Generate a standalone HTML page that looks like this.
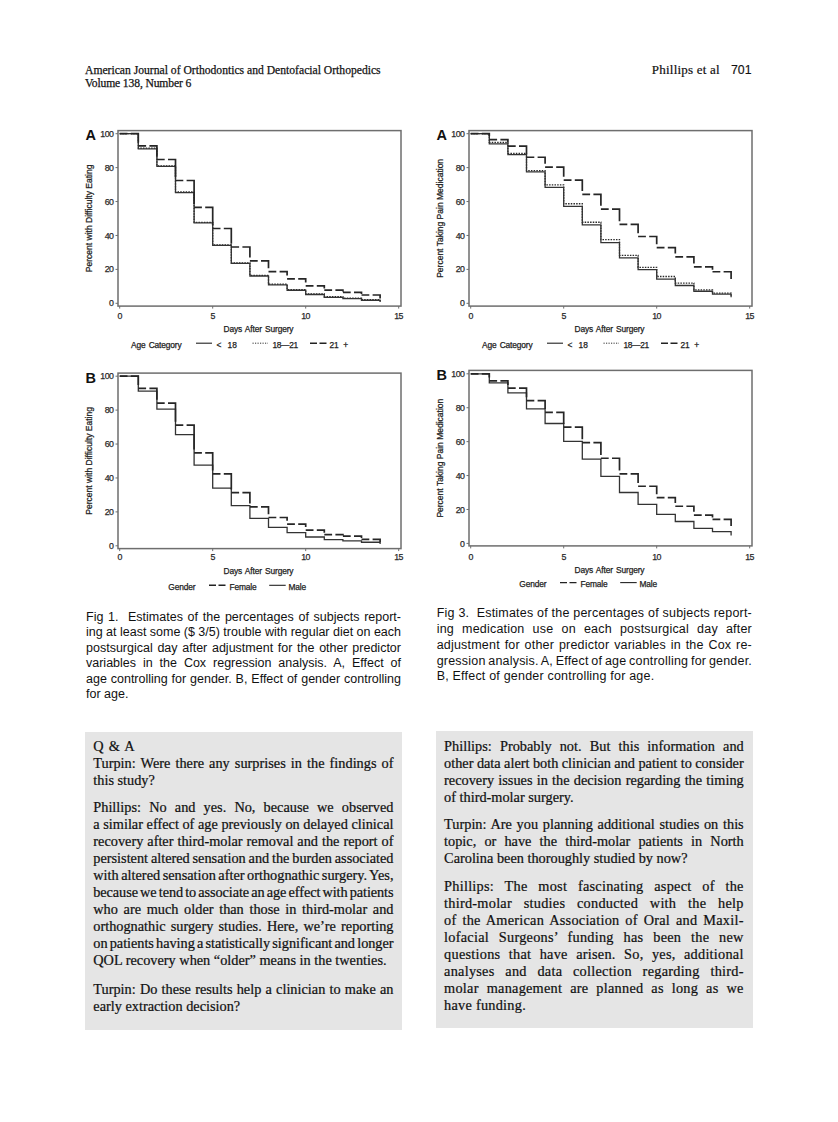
<!DOCTYPE html><html><head><meta charset="utf-8">
<style>
html,body{margin:0;padding:0;background:#fff;}
body{width:838px;height:1122px;position:relative;overflow:hidden;}
.ch{position:absolute;left:0;top:0;}
.tl{font-family:"Liberation Sans",sans-serif;font-size:8.8px;letter-spacing:-0.5px;fill:#2a2a2a;stroke:#2a2a2a;stroke-width:0.25px;}
.al{font-family:"Liberation Sans",sans-serif;font-size:8.4px;letter-spacing:-0.14px;word-spacing:1px;fill:#222;stroke:#222;stroke-width:0.25px;}
.yl{font-family:"Liberation Sans",sans-serif;font-size:8.5px;fill:#222;stroke:#222;stroke-width:0.25px;}
.pl{font-family:"Liberation Sans",sans-serif;font-size:14.5px;font-weight:bold;fill:#111;}
.hd{position:absolute;font-family:"Liberation Serif",serif;font-size:12.4px;line-height:13.4px;color:#111;white-space:nowrap;}
.hs{position:absolute;font-family:"Liberation Sans",sans-serif;font-size:12.3px;line-height:14px;color:#111;white-space:nowrap;}
.cap{position:absolute;font-family:"Liberation Sans",sans-serif;font-size:12.5px;color:#111;}
.cap div{height:15.5px;line-height:15.5px;white-space:nowrap;text-align:justify;text-align-last:justify;}
.f3 div{height:15.75px;line-height:15.75px;}
.cap div.l{text-align:left;text-align-last:left;}
.box{position:absolute;background:#e5e5e5;}
.p{position:absolute;font-family:"Liberation Serif",serif;font-size:14.3px;color:#111;-webkit-text-stroke:0.22px #111;}
.p div{height:17px;line-height:17px;white-space:nowrap;text-align:justify;text-align-last:justify;}
.p div.l{text-align:left;text-align-last:left;}
</style></head><body>
<div class="hd" style="left:85px;top:63.8px;transform:scaleX(0.938);transform-origin:0 0;-webkit-text-stroke:0.25px #111;">American Journal of Orthodontics and Dentofacial Orthopedics<br><span style="letter-spacing:-0.15px;">Volume 138, Number 6</span></div>
<div class="hd" style="left:651.8px;top:62.5px;font-size:13px;letter-spacing:0.22px;-webkit-text-stroke:0.2px #111;">Phillips et al</div>
<div class="hs" style="left:731px;top:62.7px;-webkit-text-stroke:0.15px #111;">701</div>
<svg class="ch" width="838" height="600" viewBox="0 0 838 600">
<rect x="118.00" y="130.60" width="283.00" height="175.50" fill="none" stroke="#6e6e6e" stroke-width="1.5"></rect>
<line x1="115.50" y1="303.30" x2="118.00" y2="303.30" stroke="#6e6e6e" stroke-width="1"></line>
<text x="113.50" y="306.40" class="tl" text-anchor="end">0</text>
<line x1="115.50" y1="269.38" x2="118.00" y2="269.38" stroke="#6e6e6e" stroke-width="1"></line>
<text x="113.50" y="272.48" class="tl" text-anchor="end">20</text>
<line x1="115.50" y1="235.46" x2="118.00" y2="235.46" stroke="#6e6e6e" stroke-width="1"></line>
<text x="113.50" y="238.56" class="tl" text-anchor="end">40</text>
<line x1="115.50" y1="201.54" x2="118.00" y2="201.54" stroke="#6e6e6e" stroke-width="1"></line>
<text x="113.50" y="204.64" class="tl" text-anchor="end">60</text>
<line x1="115.50" y1="167.62" x2="118.00" y2="167.62" stroke="#6e6e6e" stroke-width="1"></line>
<text x="113.50" y="170.72" class="tl" text-anchor="end">80</text>
<line x1="115.50" y1="133.70" x2="118.00" y2="133.70" stroke="#6e6e6e" stroke-width="1"></line>
<text x="113.50" y="136.80" class="tl" text-anchor="end">100</text>
<line x1="119.70" y1="306.10" x2="119.70" y2="308.60" stroke="#6e6e6e" stroke-width="1"></line>
<text x="119.60" y="318.70" class="tl" text-anchor="middle">0</text>
<line x1="212.70" y1="306.10" x2="212.70" y2="308.60" stroke="#6e6e6e" stroke-width="1"></line>
<text x="212.60" y="318.70" class="tl" text-anchor="middle">5</text>
<line x1="305.70" y1="306.10" x2="305.70" y2="308.60" stroke="#6e6e6e" stroke-width="1"></line>
<text x="305.60" y="318.70" class="tl" text-anchor="middle">10</text>
<line x1="398.70" y1="306.10" x2="398.70" y2="308.60" stroke="#6e6e6e" stroke-width="1"></line>
<text x="398.60" y="318.70" class="tl" text-anchor="middle">15</text>
<text x="85.50" y="140.20" class="pl">A</text>
<text x="91.80" y="218.35" class="yl" text-anchor="middle" transform="rotate(-90 91.80 218.35)">Percent with Difficulty Eating</text>
<text x="258.50" y="332.40" class="al" text-anchor="middle">Days After Surgery</text>
<path d="M119.70 133.70H138.30V148.20H156.90V165.84H175.50V191.96H194.10V222.32H212.70V244.87H231.30V262.85H249.90V275.40H268.50V284.22H287.10V289.65H305.70V293.89H324.30V296.77H342.90V298.13H361.50V299.65H380.10V301.26" fill="none" stroke="#2a2a2a" stroke-width="1.3" stroke-dasharray="1.5 1.2"></path>
<path d="M119.70 133.70H138.30V148.79H156.90V166.43H175.50V192.55H194.10V222.91H212.70V245.47H231.30V263.44H249.90V275.99H268.50V284.81H287.10V290.24H305.70V294.48H324.30V297.36H342.90V298.72H361.50V300.25H380.10V301.94" fill="none" stroke="#333" stroke-width="1.3"></path>
<path d="M119.70 133.70H127.50M130.80 133.70H138.30V142.61M138.30 145.91H146.10M149.40 145.91H156.90V156.18M156.90 159.48H164.70M168.00 159.48H175.50V177.21M175.50 180.51H183.30M186.60 180.51H194.10V204.01M194.10 207.31H201.90M205.20 207.31H212.70V225.21M212.70 228.51H220.50M223.80 228.51H231.30V243.69M231.30 246.99H239.10M242.40 246.99H249.90V257.60M249.90 260.90H257.70M261.00 260.90H268.50V268.28M268.50 271.58H276.30M279.60 271.58H287.10V275.58M287.10 278.88H294.90M298.20 278.88H305.70V282.53M305.70 285.83H313.50M316.80 285.83H324.30V288.38M324.30 290.07H332.10M335.40 290.07H342.90V291.39M342.90 292.28H350.70M354.00 292.28H361.50V293.90M361.50 294.99H369.30M372.60 294.99H380.10V298.38" fill="none" stroke="#262626" stroke-width="1.7"></path>
<text x="131.00" y="347.80" class="al">Age Category</text>
<line x1="196.00" y1="343.20" x2="212.00" y2="343.20" stroke="#222" stroke-width="1.1"></line>
<text x="216.50" y="347.80" class="al">&lt;&nbsp;&nbsp;18</text>
<line x1="252.50" y1="343.20" x2="268.00" y2="343.20" stroke="#333" stroke-width="1" stroke-dasharray="1.2 1.3"></line>
<text x="272.50" y="347.80" class="al" style="letter-spacing:-0.35px">18—21</text>
<line x1="310.00" y1="343.20" x2="327.00" y2="343.20" stroke="#222" stroke-width="1.4" stroke-dasharray="7 2.5"></line>
<text x="329.50" y="347.80" class="al" style="word-spacing:2.5px">21 +</text>
<rect x="469.00" y="130.60" width="283.00" height="175.50" fill="none" stroke="#6e6e6e" stroke-width="1.5"></rect>
<line x1="466.50" y1="303.30" x2="469.00" y2="303.30" stroke="#6e6e6e" stroke-width="1"></line>
<text x="464.50" y="306.40" class="tl" text-anchor="end">0</text>
<line x1="466.50" y1="269.38" x2="469.00" y2="269.38" stroke="#6e6e6e" stroke-width="1"></line>
<text x="464.50" y="272.48" class="tl" text-anchor="end">20</text>
<line x1="466.50" y1="235.46" x2="469.00" y2="235.46" stroke="#6e6e6e" stroke-width="1"></line>
<text x="464.50" y="238.56" class="tl" text-anchor="end">40</text>
<line x1="466.50" y1="201.54" x2="469.00" y2="201.54" stroke="#6e6e6e" stroke-width="1"></line>
<text x="464.50" y="204.64" class="tl" text-anchor="end">60</text>
<line x1="466.50" y1="167.62" x2="469.00" y2="167.62" stroke="#6e6e6e" stroke-width="1"></line>
<text x="464.50" y="170.72" class="tl" text-anchor="end">80</text>
<line x1="466.50" y1="133.70" x2="469.00" y2="133.70" stroke="#6e6e6e" stroke-width="1"></line>
<text x="464.50" y="136.80" class="tl" text-anchor="end">100</text>
<line x1="470.70" y1="306.10" x2="470.70" y2="308.60" stroke="#6e6e6e" stroke-width="1"></line>
<text x="470.60" y="318.70" class="tl" text-anchor="middle">0</text>
<line x1="563.70" y1="306.10" x2="563.70" y2="308.60" stroke="#6e6e6e" stroke-width="1"></line>
<text x="563.60" y="318.70" class="tl" text-anchor="middle">5</text>
<line x1="656.70" y1="306.10" x2="656.70" y2="308.60" stroke="#6e6e6e" stroke-width="1"></line>
<text x="656.60" y="318.70" class="tl" text-anchor="middle">10</text>
<line x1="749.70" y1="306.10" x2="749.70" y2="308.60" stroke="#6e6e6e" stroke-width="1"></line>
<text x="749.60" y="318.70" class="tl" text-anchor="middle">15</text>
<text x="436.50" y="140.20" class="pl">A</text>
<text x="442.80" y="218.35" class="yl" text-anchor="middle" transform="rotate(-90 442.80 218.35)">Percent Taking Pain Medication</text>
<text x="609.50" y="332.40" class="al" text-anchor="middle">Days After Surgery</text>
<path d="M470.70 133.70H489.30V142.35H507.90V153.37H526.50V170.67H545.10V184.92H563.70V203.74H582.30V222.23H600.90V239.53H619.50V255.30H638.10V267.34H656.70V276.50H675.30V283.12H693.90V289.90H712.50V293.12H731.10V295.67" fill="none" stroke="#2a2a2a" stroke-width="1.3" stroke-dasharray="1.5 1.2"></path>
<path d="M470.70 133.70H489.30V143.88H507.90V154.56H526.50V171.86H545.10V187.29H563.70V206.46H582.30V224.94H600.90V242.58H619.50V257.85H638.10V269.72H656.70V279.22H675.30V285.49H693.90V291.26H712.50V294.14H731.10V297.36" fill="none" stroke="#333" stroke-width="1.3"></path>
<path d="M470.70 133.70H478.50M481.80 133.70H489.30V136.34M489.30 139.64H497.10M500.40 139.64H507.90V142.78M507.90 146.08H515.70M519.00 146.08H526.50V153.97M526.50 157.27H534.30M537.60 157.27H545.10V163.81M545.10 167.11H552.90M556.20 167.11H563.70V176.87M563.70 180.17H571.50M574.80 180.17H582.30V191.12M582.30 194.42H590.10M593.40 194.42H600.90V205.87M600.90 209.17H608.70M612.00 209.17H619.50V221.14M619.50 224.44H627.30M630.60 224.44H638.10V233.18M638.10 236.48H645.90M649.20 236.48H656.70V244.37M656.70 247.67H664.50M667.80 247.67H675.30V253.53M675.30 256.83H683.10M686.40 256.83H693.90V263.54M693.90 266.84H701.70M705.00 266.84H712.50V269.79M712.50 271.75H720.30M723.60 271.75H731.10V278.88" fill="none" stroke="#262626" stroke-width="1.7"></path>
<text x="482.00" y="347.80" class="al">Age Category</text>
<line x1="547.00" y1="343.20" x2="563.00" y2="343.20" stroke="#222" stroke-width="1.1"></line>
<text x="567.50" y="347.80" class="al">&lt;&nbsp;&nbsp;18</text>
<line x1="603.50" y1="343.20" x2="619.00" y2="343.20" stroke="#333" stroke-width="1" stroke-dasharray="1.2 1.3"></line>
<text x="623.50" y="347.80" class="al" style="letter-spacing:-0.35px">18—21</text>
<line x1="661.00" y1="343.20" x2="678.00" y2="343.20" stroke="#222" stroke-width="1.4" stroke-dasharray="7 2.5"></line>
<text x="680.50" y="347.80" class="al" style="word-spacing:2.5px">21 +</text>
<rect x="118.00" y="373.10" width="283.00" height="175.50" fill="none" stroke="#6e6e6e" stroke-width="1.5"></rect>
<line x1="115.50" y1="545.80" x2="118.00" y2="545.80" stroke="#6e6e6e" stroke-width="1"></line>
<text x="113.50" y="548.90" class="tl" text-anchor="end">0</text>
<line x1="115.50" y1="511.88" x2="118.00" y2="511.88" stroke="#6e6e6e" stroke-width="1"></line>
<text x="113.50" y="514.98" class="tl" text-anchor="end">20</text>
<line x1="115.50" y1="477.96" x2="118.00" y2="477.96" stroke="#6e6e6e" stroke-width="1"></line>
<text x="113.50" y="481.06" class="tl" text-anchor="end">40</text>
<line x1="115.50" y1="444.04" x2="118.00" y2="444.04" stroke="#6e6e6e" stroke-width="1"></line>
<text x="113.50" y="447.14" class="tl" text-anchor="end">60</text>
<line x1="115.50" y1="410.12" x2="118.00" y2="410.12" stroke="#6e6e6e" stroke-width="1"></line>
<text x="113.50" y="413.22" class="tl" text-anchor="end">80</text>
<line x1="115.50" y1="376.20" x2="118.00" y2="376.20" stroke="#6e6e6e" stroke-width="1"></line>
<text x="113.50" y="379.30" class="tl" text-anchor="end">100</text>
<line x1="119.70" y1="548.60" x2="119.70" y2="551.10" stroke="#6e6e6e" stroke-width="1"></line>
<text x="119.60" y="560.40" class="tl" text-anchor="middle">0</text>
<line x1="212.70" y1="548.60" x2="212.70" y2="551.10" stroke="#6e6e6e" stroke-width="1"></line>
<text x="212.60" y="560.40" class="tl" text-anchor="middle">5</text>
<line x1="305.70" y1="548.60" x2="305.70" y2="551.10" stroke="#6e6e6e" stroke-width="1"></line>
<text x="305.60" y="560.40" class="tl" text-anchor="middle">10</text>
<line x1="398.70" y1="548.60" x2="398.70" y2="551.10" stroke="#6e6e6e" stroke-width="1"></line>
<text x="398.60" y="560.40" class="tl" text-anchor="middle">15</text>
<text x="85.50" y="382.70" class="pl">B</text>
<text x="91.80" y="460.85" class="yl" text-anchor="middle" transform="rotate(-90 91.80 460.85)">Percent with Difficulty Eating</text>
<text x="258.50" y="574.10" class="al" text-anchor="middle">Days After Surgery</text>
<path d="M119.70 376.20H138.30V391.12H156.90V409.10H175.50V434.71H194.10V465.07H212.70V488.14H231.30V505.60H249.90V518.32H268.50V527.31H287.10V532.57H305.70V536.98H324.30V539.69H342.90V540.88H361.50V542.24H380.10V544.10" fill="none" stroke="#333" stroke-width="1.3"></path>
<path d="M119.70 376.20H127.50M130.80 376.20H138.30V385.11M138.30 388.41H146.10M149.40 388.41H156.90V399.87M156.90 403.17H164.70M168.00 403.17H175.50V421.74M175.50 425.04H183.30M186.60 425.04H194.10V449.56M194.10 452.86H201.90M205.20 452.86H212.70V470.59M212.70 473.89H220.50M223.80 473.89H231.30V489.42M231.30 492.72H239.10M242.40 492.72H249.90V503.49M249.90 506.79H257.70M261.00 506.79H268.50V514.18M268.50 517.48H276.30M279.60 517.48H287.10V520.79M287.10 524.09H294.90M298.20 524.09H305.70V526.90M305.70 530.20H313.50M316.80 530.20H324.30V532.84M324.30 534.61H332.10M335.40 534.61H342.90V535.52M342.90 536.13H350.70M354.00 536.13H361.50V538.07M361.50 539.36H369.30M372.60 539.36H380.10V542.24" fill="none" stroke="#262626" stroke-width="1.7"></path>
<text x="168.30" y="590.10" class="al">Gender</text>
<line x1="209.00" y1="585.30" x2="226.20" y2="585.30" stroke="#222" stroke-width="1.4" stroke-dasharray="7 2.5"></line>
<text x="229.50" y="590.10" class="al">Female</text>
<line x1="269.20" y1="585.30" x2="285.70" y2="585.30" stroke="#222" stroke-width="1.1"></line>
<text x="288.50" y="590.10" class="al">Male</text>
<rect x="469.00" y="370.40" width="283.00" height="175.50" fill="none" stroke="#6e6e6e" stroke-width="1.5"></rect>
<line x1="466.50" y1="543.40" x2="469.00" y2="543.40" stroke="#6e6e6e" stroke-width="1"></line>
<text x="464.50" y="546.50" class="tl" text-anchor="end">0</text>
<line x1="466.50" y1="509.48" x2="469.00" y2="509.48" stroke="#6e6e6e" stroke-width="1"></line>
<text x="464.50" y="512.58" class="tl" text-anchor="end">20</text>
<line x1="466.50" y1="475.56" x2="469.00" y2="475.56" stroke="#6e6e6e" stroke-width="1"></line>
<text x="464.50" y="478.66" class="tl" text-anchor="end">40</text>
<line x1="466.50" y1="441.64" x2="469.00" y2="441.64" stroke="#6e6e6e" stroke-width="1"></line>
<text x="464.50" y="444.74" class="tl" text-anchor="end">60</text>
<line x1="466.50" y1="407.72" x2="469.00" y2="407.72" stroke="#6e6e6e" stroke-width="1"></line>
<text x="464.50" y="410.82" class="tl" text-anchor="end">80</text>
<line x1="466.50" y1="373.80" x2="469.00" y2="373.80" stroke="#6e6e6e" stroke-width="1"></line>
<text x="464.50" y="376.90" class="tl" text-anchor="end">100</text>
<line x1="470.70" y1="545.90" x2="470.70" y2="548.40" stroke="#6e6e6e" stroke-width="1"></line>
<text x="470.60" y="559.50" class="tl" text-anchor="middle">0</text>
<line x1="563.70" y1="545.90" x2="563.70" y2="548.40" stroke="#6e6e6e" stroke-width="1"></line>
<text x="563.60" y="559.50" class="tl" text-anchor="middle">5</text>
<line x1="656.70" y1="545.90" x2="656.70" y2="548.40" stroke="#6e6e6e" stroke-width="1"></line>
<text x="656.60" y="559.50" class="tl" text-anchor="middle">10</text>
<line x1="749.70" y1="545.90" x2="749.70" y2="548.40" stroke="#6e6e6e" stroke-width="1"></line>
<text x="749.60" y="559.50" class="tl" text-anchor="middle">15</text>
<text x="436.50" y="380.00" class="pl">B</text>
<text x="442.80" y="458.15" class="yl" text-anchor="middle" transform="rotate(-90 442.80 458.15)">Percent Taking Pain Medication</text>
<text x="609.50" y="573.20" class="al" text-anchor="middle">Days After Surgery</text>
<path d="M470.70 373.80H489.30V382.79H507.90V392.96H526.50V408.91H545.10V423.49H563.70V441.47H582.30V459.11H600.90V476.41H619.50V492.52H638.10V504.39H656.70V514.40H675.30V521.52H693.90V528.31H712.50V531.70H731.10V535.43" fill="none" stroke="#333" stroke-width="1.3"></path>
<path d="M470.70 373.80H478.50M481.80 373.80H489.30V377.62M489.30 380.92H497.10M500.40 380.92H507.90V384.92M507.90 388.22H515.70M519.00 388.22H526.50V397.30M526.50 400.60H534.30M537.60 400.60H545.10V409.00M545.10 412.30H552.90M556.20 412.30H563.70V423.92M563.70 427.22H571.50M574.80 427.22H582.30V439.36M582.30 442.66H590.10M593.40 442.66H600.90V454.96M600.90 458.26H608.70M612.00 458.26H619.50V470.56M619.50 473.86H627.30M630.60 473.86H638.10V482.94M638.10 486.24H645.90M649.20 486.24H656.70V494.31M656.70 497.61H664.50M667.80 497.61H675.30V502.96M675.30 506.26H683.10M686.40 506.26H693.90V511.78M693.90 515.08H701.70M705.00 515.08H712.50V517.62M712.50 519.32H720.30M723.60 519.32H731.10V525.93" fill="none" stroke="#262626" stroke-width="1.7"></path>
<text x="519.30" y="587.40" class="al">Gender</text>
<line x1="560.00" y1="582.60" x2="577.20" y2="582.60" stroke="#222" stroke-width="1.4" stroke-dasharray="7 2.5"></line>
<text x="580.50" y="587.40" class="al">Female</text>
<line x1="620.20" y1="582.60" x2="636.70" y2="582.60" stroke="#222" stroke-width="1.1"></line>
<text x="639.50" y="587.40" class="al">Male</text>
</svg>
<div class="cap" style="left:86px;top:609.5px;width:315px;">
<div>Fig 1.&nbsp; Estimates of the percentages of subjects report-</div>
<div style="word-spacing: -0.64px;">ing at least some ($ 3/5) trouble with regular diet on each</div>
<div>postsurgical day after adjustment for the other predictor</div>
<div>variables in the Cox regression analysis. A, Effect of</div>
<div style="word-spacing: -0.2px;">age controlling for gender. B, Effect of gender controlling</div>
<div class="l">for age.</div>
</div>
<div class="cap f3" style="left:436.7px;top:606.4px;width:315.3px;letter-spacing:0.2px;">
<div style="word-spacing: -0.54px;">Fig 3.&nbsp; Estimates of the percentages of subjects report-</div>
<div>ing medication use on each postsurgical day after</div>
<div>adjustment for other predictor variables in the Cox re-</div>
<div style="word-spacing: -1.55px;">gression analysis. A, Effect of age controlling for gender.</div>
<div class="l">B, Effect of gender controlling for age.</div>
</div>
<div class="box" style="left:85px;top:732px;width:317px;height:297.6px;"></div>
<div class="box" style="left:436px;top:731px;width:316.8px;height:296.6px;"></div>
<div class="p" style="left:93.3px;top:737.6px;width:300.2px;">
<div class="l" style="word-spacing:1.6px;">Q &amp; A</div>
<div>Turpin: Were there any surprises in the findings of</div>
<div class="l">this study?</div>
</div>
<div class="p" style="left:93.3px;top:799.2px;width:300.2px;">
<div>Phillips: No and yes. No, because we observed</div>
<div style="word-spacing: -0.56px;">a similar effect of age previously on delayed clinical</div>
<div style="word-spacing: -0.19px;">recovery after third-molar removal and the report of</div>
<div style="word-spacing: -1.39px;">persistent altered sensation and the burden associated</div>
<div style="word-spacing: -1.6px;">with altered sensation after orthognathic surgery. Yes,</div>
<div style="word-spacing: -1.6px; letter-spacing: -0.09px;">because we tend to associate an age effect with patients</div>
<div>who are much older than those in third-molar and</div>
<div>orthognathic surgery studies. Here, we’re reporting</div>
<div style="word-spacing: -1.6px; letter-spacing: -0.042px;">on patients having a statistically significant and longer</div>
<div class="l">QOL recovery when “older” means in the twenties.</div>
</div>
<div class="p" style="left:93.3px;top:980.8px;width:300.2px;">
<div>Turpin: Do these results help a clinician to make an</div>
<div class="l">early extraction decision?</div>
</div>
<div class="p" style="left:444.1px;top:737.6px;width:299.6px;">
<div>Phillips: Probably not. But this information and</div>
<div style="word-spacing: -0.77px;">other data alert both clinician and patient to consider</div>
<div>recovery issues in the decision regarding the timing</div>
<div class="l">of third-molar surgery.</div>
</div>
<div class="p" style="left:444.1px;top:816.2px;width:299.6px;">
<div>Turpin: Are you planning additional studies on this</div>
<div>topic, or have the third-molar patients in North</div>
<div class="l">Carolina been thoroughly studied by now?</div>
</div>
<div class="p" style="left:444.1px;top:877.6px;width:299.6px;letter-spacing:0.25px;">
<div>Phillips: The most fascinating aspect of the</div>
<div>third-molar studies conducted with the help</div>
<div>of the American Association of Oral and Maxil-</div>
<div>lofacial Surgeons’ funding has been the new</div>
<div>questions that have arisen. So, yes, additional</div>
<div>analyses and data collection regarding third-</div>
<div>molar management are planned as long as we</div>
<div class="l">have funding.</div>
</div>

</body></html>
